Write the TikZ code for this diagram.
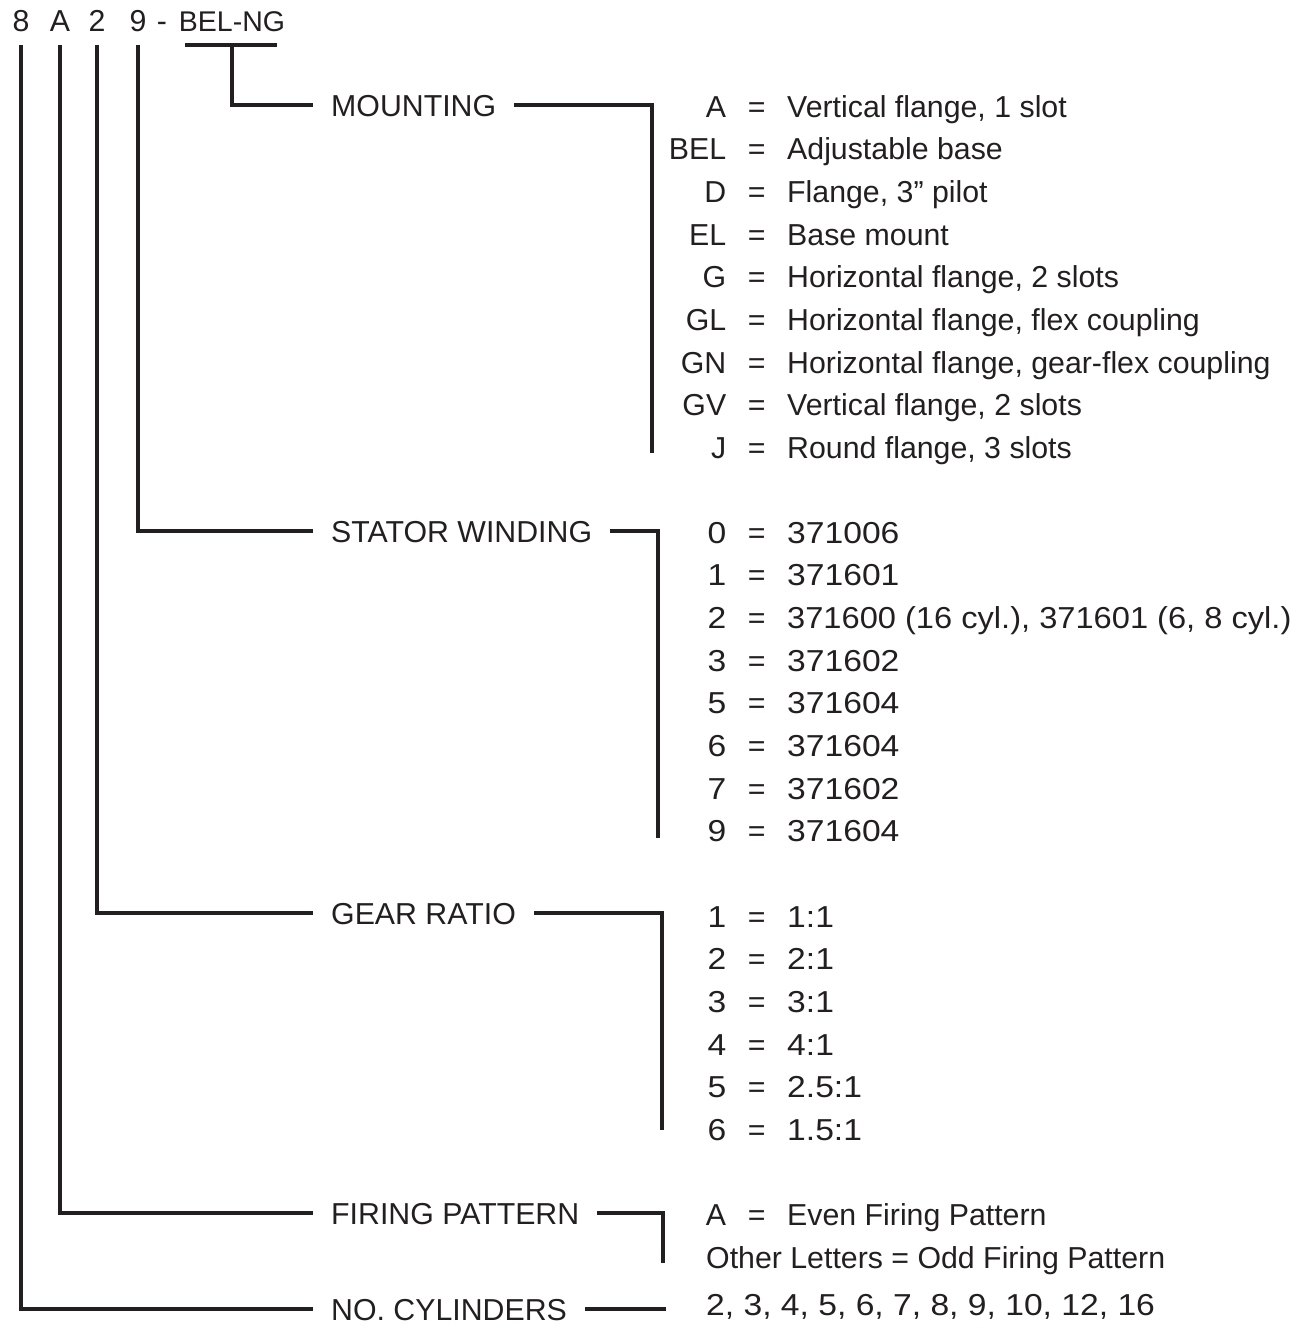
\documentclass[tikz,border=0pt]{standalone}
\usepackage{fontspec}
\setmainfont{Liberation Sans}
\newfontfamily\numfont[FakeStretch=1.11]{Liberation Sans}
\newfontfamily\numfontb[FakeStretch=1.077]{Liberation Sans}
\definecolor{ink}{HTML}{231F20}
\newcommand{\rowentry}[4]{%
  \node[entry] (#1) at (670,#2) {\makebox[56pt][r]{#3}\makebox[61pt]{=}#4};}
\begin{document}
\begin{tikzpicture}[x=1pt,y=-1pt,
  every node/.style={text=ink,font=\fontsize{30.3}{32}\selectfont},
  wire/.style={draw=ink,line width=3.1pt},
  head/.style={anchor=base,inner sep=0pt},
  lbl/.style={anchor=west,inner xsep=18pt,inner ysep=0pt,text height=22pt,text depth=0pt},
  entry/.style={anchor=base west,inner sep=0pt},
  plain/.style={anchor=base west,inner sep=0pt}]
\useasboundingbox (0,0) rectangle (1306,1330);
% header
\node[head] (d8) at (21,32) {8};
\node[head] (dA) at (60,32) {A};
\node[head] (d2) at (97,32) {2};
\node[head] (d9) at (138,32) {9};
\node[head] (dash) at (162,32) {-};
\node[head] (code) at (232,32) {\fontsize{28.5}{32}\selectfont BEL-NG};
% labels
\node[lbl] (lmount) at (313,105) {MOUNTING};
\node[lbl] (lstat) at (313,531) {STATOR WINDING};
\node[lbl] (lgear) at (313,913) {GEAR RATIO};
\node[lbl] (lfire) at (313,1213) {FIRING PATTERN};
\node[lbl] (lcyl) at (313,1309) {NO. CYLINDERS};
% left connectors
\coordinate (ul) at (185,45);
\coordinate (ur) at (277,45);
\draw[wire] (ul) -- (ur);
\draw[wire] (code.base |- ul) |- (lmount.west);
\draw[wire] ([yshift=-13pt]d9.base) |- (lstat.west);
\draw[wire] ([yshift=-13pt]d2.base) |- (lgear.west);
\draw[wire] ([yshift=-13pt]dA.base) |- (lfire.west);
\draw[wire] ([yshift=-13pt]d8.base) |- (lcyl.west);
% right brackets
\coordinate (bm) at (652,453);
\coordinate (bs) at (658,838);
\coordinate (bg) at (662,1130);
\coordinate (bf) at (663,1263);
\coordinate (bc) at (666,1309);
\draw[wire] (lmount.east) -| (bm);
\draw[wire] (lstat.east) -| (bs);
\draw[wire] (lgear.east) -| (bg);
\draw[wire] (lfire.east) -| (bf);
\draw[wire] (lcyl.east) -- (bc);
% mounting
\rowentry{m1}{117}{A}{Vertical flange, 1 slot}
\rowentry{m2}{159.7}{BEL}{Adjustable base}
\rowentry{m3}{202.3}{D}{Flange, 3” pilot}
\rowentry{m4}{245}{EL}{Base mount}
\rowentry{m5}{287.7}{G}{Horizontal flange, 2 slots}
\rowentry{m6}{330.3}{GL}{Horizontal flange, flex coupling}
\rowentry{m7}{373}{GN}{Horizontal flange, gear-flex coupling}
\rowentry{m8}{415.7}{GV}{Vertical flange, 2 slots}
\rowentry{m9}{458.3}{J}{Round flange, 3 slots}
% stator
\rowentry{s0}{543}{\numfont 0}{\numfont 371006}
\rowentry{s1}{585.7}{\numfont 1}{\numfont 371601}
\rowentry{s2}{628.4}{\numfont 2}{\numfontb 371600 (16 cyl.), 371601 (6, 8 cyl.)}
\rowentry{s3}{671.1}{\numfont 3}{\numfont 371602}
\rowentry{s5}{713.8}{\numfont 5}{\numfont 371604}
\rowentry{s6}{756.5}{\numfont 6}{\numfont 371604}
\rowentry{s7}{799.2}{\numfont 7}{\numfont 371602}
\rowentry{s9}{841.9}{\numfont 9}{\numfont 371604}
% gear
\rowentry{g1}{927}{\numfont 1}{\numfont 1:1}
\rowentry{g2}{969.7}{\numfont 2}{\numfont 2:1}
\rowentry{g3}{1012.4}{\numfont 3}{\numfont 3:1}
\rowentry{g4}{1055.1}{\numfont 4}{\numfont 4:1}
\rowentry{g5}{1097.8}{\numfont 5}{\numfont 2.5:1}
\rowentry{g6}{1140.5}{\numfont 6}{\numfont 1.5:1}
% firing
\rowentry{f1}{1225}{A}{Even Firing Pattern}
\node[plain] (f2) at (706,1268) {Other Letters = Odd Firing Pattern};
% cylinders
\node[plain] (c1) at (706,1315) {\numfont 2, 3, 4, 5, 6, 7, 8, 9, 10, 12, 16};
\end{tikzpicture}
\end{document}
